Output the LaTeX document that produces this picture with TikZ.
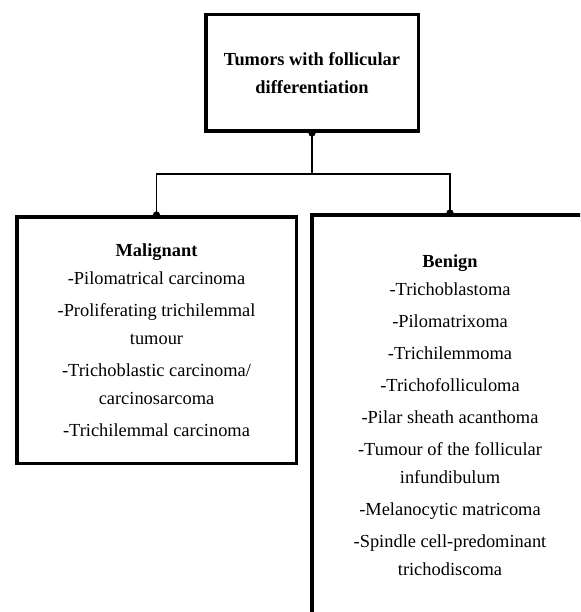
\documentclass[tikz,border=0pt]{standalone}
\usepackage{fontspec}
\setmainfont{Liberation Serif}
\begin{document}
\begin{tikzpicture}[
        x=1pt, y=-1pt,
        every node/.style={align=center, font=\fontsize{18.4}{28}\selectfont},
        topbox/.style={rectangle, draw, line width=3.5pt, minimum width=212.5pt, minimum height=116.5pt, inner sep=0pt},
        groupbox/.style={rectangle, draw, line width=3.5pt, inner sep=0pt},
        link/.style={line width=1.9pt}
    ]
    \clip (0,0) rectangle (580,612);

    % Nodes
    \node (tumors) [topbox] at (312,73) {\textbf{Tumors with follicular}\\ \textbf{differentiation}};

    \node (malignant) [groupbox, minimum width=279.5pt, minimum height=246.5pt] at (156.5,340) {\textbf{Malignant}\\
    -Pilomatrical carcinoma\\[4pt]
    -Proliferating trichilemmal\\ tumour\\[4pt]
    -Trichoblastic carcinoma/\\ carcinosarcoma\\[4pt]
    -Trichilemmal carcinoma};

    \node (benign) [groupbox, minimum width=276.5pt, minimum height=400pt] at (450,414.75) {\textbf{Benign}\\
    -Trichoblastoma\\[4pt]
    -Pilomatrixoma\\[4pt]
    -Trichilemmoma\\[4pt]
    -Trichofolliculoma\\[4pt]
    -Pilar sheath acanthoma\\[4pt]
    -Tumour of the follicular\\ infundibulum\\[4pt]
    -Melanocytic matricoma\\[4pt]
    -Spindle cell-predominant\\ trichodiscoma};

    \coordinate (branch) at (312,174);

    % Connectors
    \draw [link] (tumors.south) -- (branch);
    \draw [link] (branch) -| (malignant.north);
    \draw [link] (branch) -| (benign.north);
    \foreach \n in {tumors.south, malignant.north, benign.north}
        \fill (\n) circle (3.6pt);

\end{tikzpicture}
\end{document}
